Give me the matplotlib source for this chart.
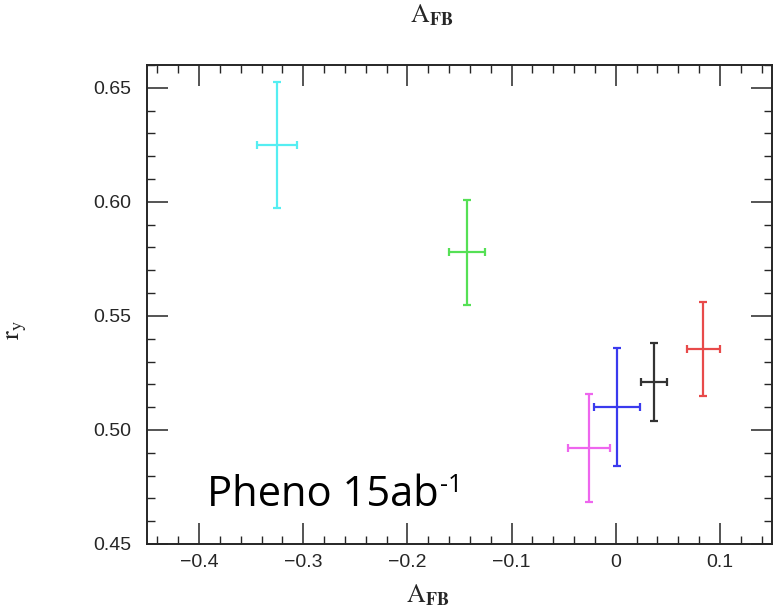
import matplotlib
matplotlib.use('Agg')
import matplotlib.pyplot as plt
from matplotlib.ticker import MultipleLocator, FuncFormatter

# measured (A_FB, r_y) points with their uncertainties
colours = ['#55eef2', '#55e055', '#ee66ee', '#3a3aee', '#333333', '#e84a4a']
a_fb = [-0.325, -0.143, -0.026, 0.001, 0.037, 0.084]
a_fb_err = [0.019, 0.017, 0.020, 0.022, 0.0125, 0.016]
r_y = [0.625, 0.578, 0.492, 0.510, 0.521, 0.5355]
r_y_err = [0.0275, 0.023, 0.0237, 0.026, 0.017, 0.0205]

x_limits = (-0.45, 0.15)
y_limits = (0.45, 0.66)

plt.rcParams['mathtext.fontset'] = 'stix'
ink = '#262626'

fig = plt.figure(figsize=(7.79, 6.11), dpi=100)
ax = fig.add_axes([147/779, 67/611, 625/779, 479/611])

for x, dx, y, dy, c in zip(a_fb, a_fb_err, r_y, r_y_err, colours):
    ax.errorbar(x, y, xerr=dx, yerr=dy, fmt='none', ecolor=c,
                elinewidth=1.6, capsize=3, capthick=1.6)

ax.set_xlim(*x_limits)
ax.set_ylim(*y_limits)
ax.xaxis.set_major_locator(MultipleLocator(0.1))
ax.xaxis.set_minor_locator(MultipleLocator(0.02))
ax.yaxis.set_major_locator(MultipleLocator(0.05))
ax.yaxis.set_minor_locator(MultipleLocator(0.01))

def x_label(v, pos):
    if abs(v) < 1e-9:
        return '0'
    return f'{v:.1f}'.replace('-', '\u2212')

ax.xaxis.set_major_formatter(FuncFormatter(x_label))
ax.yaxis.set_major_formatter(FuncFormatter(lambda v, pos: f'{v:.2f}'))

ax.tick_params(which='both', direction='in', top=True, right=True,
               color=ink, labelcolor=ink)
ax.tick_params(which='major', length=15, width=1.1, labelsize=14)
ax.tick_params(which='minor', length=5.5, width=1.0)
ax.tick_params(axis='x', which='major', pad=7)
ax.tick_params(axis='y', which='major', pad=11)
for lab in ax.get_xticklabels() + ax.get_yticklabels():
    lab.set_fontfamily('Liberation Sans')
for s in ax.spines.values():
    s.set_linewidth(1.4)
    s.set_color(ink)

# axis titles in a Times-like face
afb = r'$\mathrm{A}_{\mathbf{FB}}$'
fig.text(428/779, 1 - 602/611, afb, fontsize=18.5,
         ha='center', va='baseline', color=ink)
fig.text(432/779, 1 - 22/611, afb, fontsize=18.5,
         ha='center', va='baseline', color=ink)
fig.text(16/779, 1 - 330/611, r'$\mathrm{r_y}$', fontsize=19,
         ha='center', va='center', rotation=90, color=ink)

pheno = ax.text((207 - 147) / 625, (611 - 506 - 67) / 479,
                'Pheno 15ab', transform=ax.transAxes, fontsize=30,
                family='Open Sans', ha='left', va='baseline', color='black')
ax.annotate('-1', xy=(1.0, 0.0), xycoords=pheno, xytext=(1.0, 17),
            textcoords='offset points', fontsize=18, family='Open Sans',
            ha='left', va='baseline', color='black')

fig.savefig('out.png', dpi=100)
